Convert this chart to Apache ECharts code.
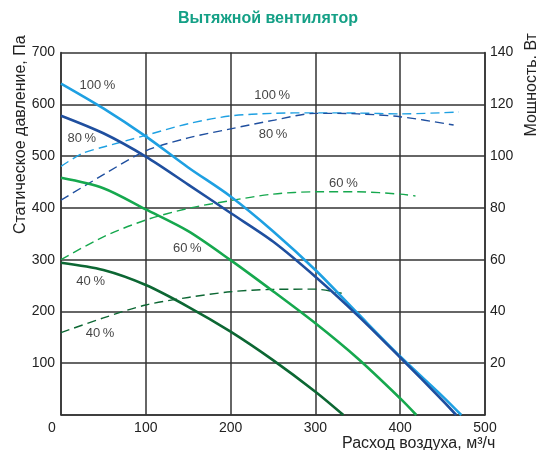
<!DOCTYPE html>
<html>
<head>
<meta charset="utf-8">
<script src="https://cdn.jsdelivr.net/npm/echarts@6/dist/echarts.min.js"></script>
<style>html,body{margin:0;padding:0;background:#fff}#c{width:536px;height:450px}</style>
</head>
<body>
<div id="c"></div>
<script>
// ---- data ----
const titleText = 'Вытяжной вентилятор';
const xName = 'Расход воздуха, м\u00b3/ч';
const yLeftName = 'Статическое давление, Па';
const yRightName = 'Мощность, Вт';

// pressure curves [flow m3/h, Pa]
const press100 = [[0,640],[50,592],[100,538],[150,478],[200,422],[250,355],[300,280],[350,196],[400,113],[450,36],[472,0]];
const press80  = [[0,578],[50,544],[100,499],[150,445],[200,390],[250,335],[300,267],[350,192],[400,111],[450,28],[466,0]];
const press60  = [[0,458],[50,438],[100,397],[150,355],[200,299],[250,239],[300,177],[350,109],[400,32],[419,0]];
const press40  = [[0,294],[50,280],[100,251],[150,209],[200,161],[250,106],[300,45],[333,0]];

// power curves [flow m3/h, W]
const power100 = [[0,96],[25,101],[50,103.5],[100,108],[150,112.5],[200,115.5],[250,116.5],[300,116.7],[350,116.6],[400,116.3],[469,117]];
const power80  = [[0,83],[50,92.8],[100,102],[150,107],[200,110.5],[250,113.8],[300,116.5],[350,116.3],[400,115.2],[463,112]];
const power60  = [[0,60],[50,68.8],[100,75.3],[150,79.8],[200,82.8],[250,85.3],[300,86.2],[350,86.2],[400,85.3],[418,84.6]];
const power40  = [[0,31.8],[50,37.5],[100,42.5],[150,45.4],[200,47.6],[250,48.5],[300,48.6],[331,47]];

// curve labels [flow, Pa, text]
const curveLabels = [
  [43,637,'100\u2009%'],[24.5,534,'80\u2009%'],[149,321,'60\u2009%'],[35,258,'40\u2009%'],
  [249,618,'100\u2009%'],[250,541,'80\u2009%'],[333,448,'60\u2009%'],[46,157,'40\u2009%']
];

const xTicks = {min:0,max:500,interval:100};
const yLeftTicks = {min:0,max:700,interval:100};
const yRightTicks = {min:0,max:140,interval:20};

// ---- styles ----
const cLight = '#1ea0e2', cDark = '#1f4f9f', cGreen = '#16a84e', cDGreen = '#0c6733';
const gridColor = '#333';
const fontFam = '"Liberation Sans", Arial, sans-serif';

function solid(data, color){
  return {type:'line', data, yAxisIndex:0, smooth:0.3, symbol:'none',
    lineStyle:{color, width:2.6}, z:3, silent:true};
}
function dashed(data, color){
  return {type:'line', data, yAxisIndex:1, smooth:0.3, symbol:'none',
    lineStyle:{color, width:1.4, type:[9,5]}, z:2, silent:true};
}

const chart = echarts.init(document.getElementById('c'), null, {renderer:'canvas'});
chart.setOption({
  animation:false,
  backgroundColor:'#fff',
  textStyle:{fontFamily:fontFam},
  title:{text:titleText, left:'center', top:6,
    textStyle:{fontSize:16, fontWeight:'bold', color:'#14a086', fontFamily:fontFam}},
  grid:{left:61, right:51, top:52.5, bottom:35, containLabel:false, outerBoundsMode:'none'},
  xAxis:{type:'value', min:xTicks.min, max:xTicks.max, interval:xTicks.interval,
    name:xName, nameLocation:'end', nameGap:-143, nameMoveOverlap:false,
    nameTextStyle:{fontSize:16, color:'#222', verticalAlign:'top', padding:[21,0,0,0]},
    axisLine:{show:true, lineStyle:{color:gridColor, width:1.5}},
    axisTick:{show:false},
    axisLabel:{fontSize:14, color:'#222', margin:6,
      formatter:v=> v===0 ? '{z|0}' : String(v),
      rich:{z:{fontSize:14, color:'#222', padding:[0,18,0,0]}}},
    splitLine:{show:true, lineStyle:{color:gridColor, width:1.5}}},
  yAxis:[
    {type:'value', min:yLeftTicks.min, max:yLeftTicks.max, interval:yLeftTicks.interval,
      name:yLeftName, nameLocation:'middle', nameGap:32, nameRotate:90, nameMoveOverlap:false,
      nameTextStyle:{fontSize:16, color:'#222', padding:[0,0,0,198]},
      axisLine:{show:true, lineStyle:{color:gridColor, width:1.5}},
      axisTick:{show:false},
      axisLabel:{fontSize:14, color:'#222', margin:6, showMinLabel:false},
      splitLine:{show:true, lineStyle:{color:gridColor, width:1.5}}},
    {type:'value', position:'right', min:yRightTicks.min, max:yRightTicks.max, interval:yRightTicks.interval,
      name:yRightName, nameLocation:'middle', nameGap:39, nameRotate:90, nameMoveOverlap:false,
      nameTextStyle:{fontSize:16, color:'#222', padding:[0,0,0,298]},
      axisLine:{show:true, lineStyle:{color:gridColor, width:1.5}},
      axisTick:{show:false},
      axisLabel:{fontSize:14, color:'#222', margin:5, showMinLabel:false},
      splitLine:{show:false}}
  ],
  series:[
    dashed(power100, cLight), dashed(power80, cDark), dashed(power60, cGreen), dashed(power40, cDGreen),
    solid(press100, cLight), solid(press80, cDark), solid(press60, cGreen), solid(press40, cDGreen),
    {type:'scatter', yAxisIndex:0, symbolSize:0, silent:true, z:5,
      data:curveLabels.map(d=>({value:[d[0],d[1]], name:d[2]})),
      label:{show:true, position:'inside', formatter:p=>p.name, fontSize:13, color:'#111', fontFamily:fontFam}}
  ]
});
</script>
</body>
</html>
